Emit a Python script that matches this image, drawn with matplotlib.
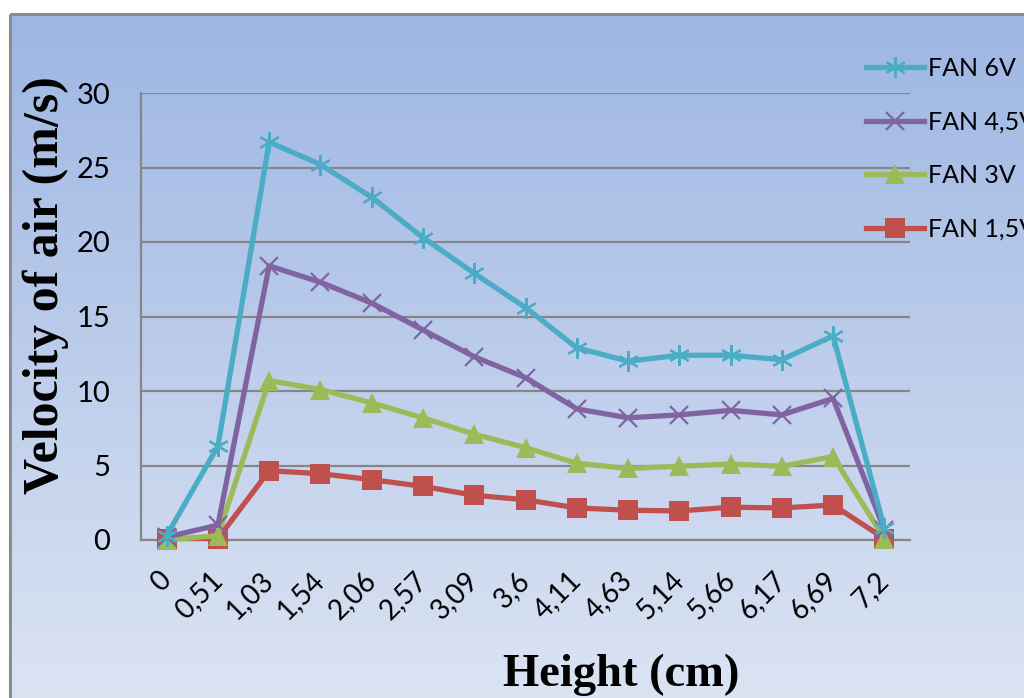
import numpy as np
import matplotlib
matplotlib.use("Agg")
import matplotlib.pyplot as plt
from matplotlib.colors import LinearSegmentedColormap
from matplotlib.patches import Rectangle

heights = ["0", "0,51", "1,03", "1,54", "2,06", "2,57", "3,09", "3,6",
           "4,11", "4,63", "5,14", "5,66", "6,17", "6,69", "7,2"]
fan_6v = [0.3, 6.3, 26.7, 25.2, 23.0, 20.3, 17.9, 15.6, 12.9, 12.0, 12.4, 12.4, 12.1, 13.7, 0.8]
fan_45v = [0.2, 1.0, 18.4, 17.3, 15.9, 14.1, 12.3, 10.9, 8.8, 8.2, 8.4, 8.7, 8.4, 9.5, 0.7]
fan_3v = [0.0, 0.3, 10.7, 10.1, 9.2, 8.2, 7.1, 6.2, 5.15, 4.8, 4.95, 5.1, 4.95, 5.6, 0.1]
fan_15v = [0.1, 0.1, 4.65, 4.45, 4.05, 3.6, 3.0, 2.7, 2.15, 2.0, 1.95, 2.2, 2.15, 2.35, 0.1]
series_labels = ["FAN 6V", "FAN 4,5V", "FAN 3V", "FAN 1,5V"]
y_ticks = [0, 5, 10, 15, 20, 25, 30]

W, H = 1024, 698
fig = plt.figure(figsize=(W / 100, H / 100), dpi=100)
fig.patch.set_facecolor("white")

# background gradient
bg = fig.add_axes([0, 0, 1, 1], zorder=-10)
bg.set_xlim(0, W)
bg.set_ylim(H, 0)
bg.axis("off")
cmap = LinearSegmentedColormap.from_list("g", ["#9DB6E3", "#DCE4F3"])
grad = np.linspace(0, 1, 256).reshape(-1, 1)
bg.imshow(grad, cmap=cmap, extent=[10, W + 5, H + 5, 14], aspect="auto", zorder=0)
bg.add_patch(Rectangle((10, 14), W + 20, H + 20, fill=False, edgecolor="#8C8C8C", lw=2.2, zorder=2))

ax = fig.add_axes([141 / W, 1 - 540 / H, (910 - 141) / W, (540 - 93) / H])
ax.patch.set_alpha(0)
x = np.arange(len(heights))

lw = 3.8
ax.plot(x, fan_6v, color="#4BACC6", lw=lw, marker=(6, 2, 0), ms=15, mew=1.6,
        mec="#4BACC6", label=series_labels[0], zorder=6, clip_on=False)
ax.plot(x, fan_45v, color="#8064A2", lw=lw, marker="x", ms=13, mew=1.6,
        mec="#8064A2", label=series_labels[1], zorder=5, clip_on=False)
ax.plot(x, fan_3v, color="#9BBB59", lw=lw, marker="^", ms=14, mew=0,
        label=series_labels[2], zorder=4, clip_on=False)
ax.plot(x, fan_15v, color="#C0504D", lw=lw, marker="s", ms=14, mew=0,
        label=series_labels[3], zorder=3, clip_on=False)

ax.set_xlim(-0.5, len(heights) - 0.5)
ax.set_ylim(0, 30)
ax.set_yticks(y_ticks)
ax.yaxis.grid(True, color="#868686", lw=1.6)
ax.set_axisbelow(True)
for s in ["top", "right"]:
    ax.spines[s].set_visible(False)
for s in ["left", "bottom"]:
    ax.spines[s].set_color("#868686")
    ax.spines[s].set_linewidth(1.6)

tick_font = "Lato"
ax.tick_params(axis="y", length=0, pad=22, labelsize=21)
ax.tick_params(axis="x", length=0, pad=26, labelsize=20)
ax.set_xticks(x)
ax.set_xticklabels(heights, rotation=45, ha="right", va="center", rotation_mode="anchor")
for lab in ax.get_xticklabels() + ax.get_yticklabels():
    lab.set_fontfamily(tick_font)

fig.text(621 / W, 1 - 675 / H, "Height (cm)", fontsize=33.5, fontweight="bold",
         family="Liberation Serif", ha="center", va="center")
fig.text(46 / W, 1 - 285 / H, "Velocity of air (m/s)", fontsize=36, fontweight="bold",
         family="Liberation Serif", ha="center", va="center", rotation=90)

leg = ax.legend(loc="upper left", bbox_to_anchor=(866 / W, 1 - 57 / H),
                bbox_transform=fig.transFigure, frameon=False,
                prop={"family": tick_font, "size": 18},
                handlelength=2.3, handletextpad=0.2, labelspacing=1.22,
                borderpad=0, borderaxespad=0)

fig.savefig("out.png", dpi=100)
